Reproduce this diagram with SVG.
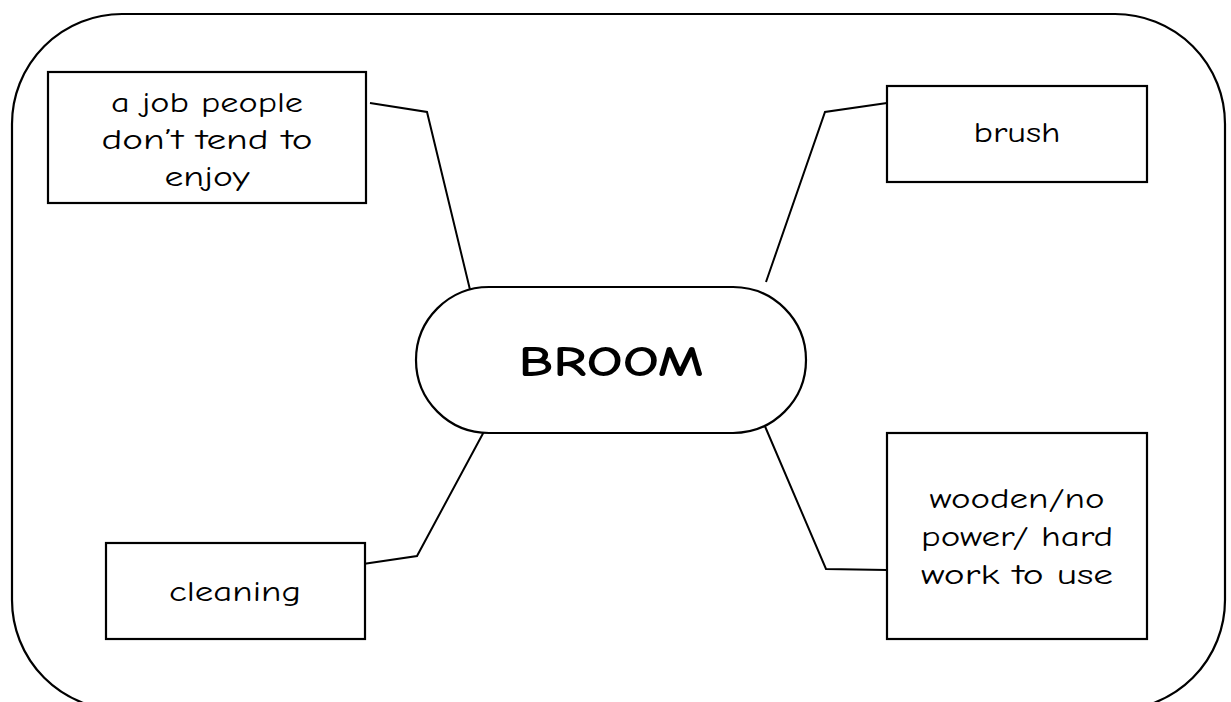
<svg xmlns="http://www.w3.org/2000/svg" width="1231" height="702" viewBox="0 0 1231 702">
<style>
.box{fill:#fff;stroke:#000;stroke-width:2.2}
.lbl{font-family:"Comic Sans MS","Comic Neue","Open Sans","Liberation Sans",sans-serif;font-size:29px;fill:#000;text-anchor:middle}
.title{font-family:"Comic Sans MS","Comic Neue","Open Sans","Liberation Sans",sans-serif;font-size:42px;font-weight:bold;fill:#000;text-anchor:middle}
.conn{fill:none;stroke:#000;stroke-width:2}
</style>
<rect width="1231" height="702" fill="#fff"/>
<rect id="frame" x="12" y="14" width="1213" height="696" rx="110" ry="110" fill="none" stroke="#000" stroke-width="2.2"/>
<g id="connectors">
<polyline class="conn" points="370,103 427,112 472,298"/>
<polyline class="conn" points="887,103 825,112 766,282"/>
<polyline class="conn" points="363,564 417,556 487,426"/>
<polyline class="conn" points="764,424 826,569 887,570"/>
</g>
<g id="center">
<rect class="box" x="416" y="287" width="390" height="146" rx="73" ry="73"/>
<text class="title" x="611" y="376" textLength="185" lengthAdjust="spacingAndGlyphs">BROOM</text>
</g>
<g id="node-job">
<rect class="box" x="48" y="72" width="318" height="131"/>
<text class="lbl" x="207" y="112" textLength="192" lengthAdjust="spacingAndGlyphs">a job people</text>
<text class="lbl" x="207" y="149" textLength="211" lengthAdjust="spacingAndGlyphs">don’t tend to</text>
<text class="lbl" x="207" y="186" textLength="85" lengthAdjust="spacingAndGlyphs">enjoy</text>
</g>
<g id="node-brush">
<rect class="box" x="887" y="86" width="260" height="96"/>
<text class="lbl" x="1017" y="142" textLength="87" lengthAdjust="spacingAndGlyphs">brush</text>
</g>
<g id="node-cleaning">
<rect class="box" x="106" y="543" width="259" height="96"/>
<text class="lbl" x="235" y="601" textLength="132" lengthAdjust="spacingAndGlyphs">cleaning</text>
</g>
<g id="node-wooden">
<rect class="box" x="887" y="433" width="260" height="206"/>
<text class="lbl" x="1017" y="508" textLength="175" lengthAdjust="spacingAndGlyphs">wooden/no</text>
<text class="lbl" x="1017" y="546" textLength="192" lengthAdjust="spacingAndGlyphs">power/ hard</text>
<text class="lbl" x="1017" y="584" textLength="192" lengthAdjust="spacingAndGlyphs">work to use</text>
</g>
</svg>
